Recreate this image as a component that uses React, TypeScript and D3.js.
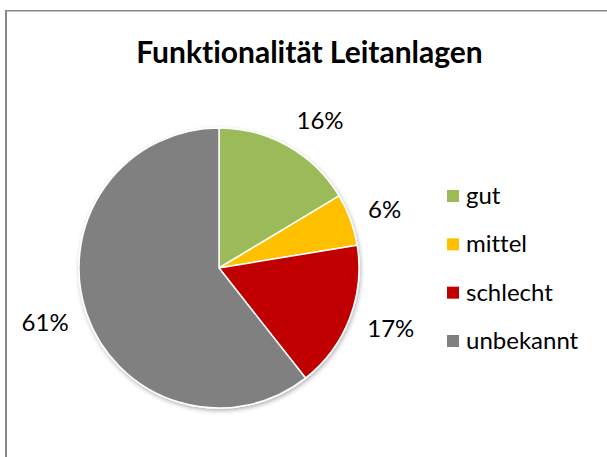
import React from 'react';
import * as d3 from 'd3';

const categories = ['gut', 'mittel', 'schlecht', 'unbekannt'];
const values = [16.4, 6.0, 17.0, 60.6];
const colors = ['#9BBB59', '#FFC000', '#C00000', '#808080'];
const title = 'Funktionalität Leitanlagen';

export default function App() {
  const W = 607, H = 457;
  const cx = 219, cy = 268, r = 140;
  const font = 'Lato, Carlito, Calibri, sans-serif';
  const pieData = d3.pie<number>().sort(null).value((d) => d)(values);
  const arc = d3.arc<d3.PieArcDatum<number>>().innerRadius(0).outerRadius(r);
  const total = d3.sum(values);
  const fmt = (v: number) => `${Math.round((v / total) * 100)}%`;
  const labelFs = 24;
  const legendY = d3.scaleLinear().domain([0, 3]).range([196, 341]);
  const noLig = { fontVariantLigatures: 'none' as const, fontFeatureSettings: '"liga" 0, "clig" 0' };

  return (
    <svg width={W} height={H} style={{ position: 'absolute', left: 0, top: 0, background: '#fff' }}>
      <defs>
        <filter id="sh" x="-20%" y="-20%" width="140%" height="140%">
          <feDropShadow dx="1" dy="2" stdDeviation="2" floodColor="#000" floodOpacity="0.3" />
        </filter>
      </defs>
      <rect x={0} y={0} width={W} height={H} fill="#fff" />
      <line x1={6} y1={10.75} x2={W} y2={10.75} stroke="#878787" strokeWidth={1.5} />
      <line x1={6} y1={10} x2={6} y2={H} stroke="#878787" strokeWidth={2} />
      <text x={309.5} y={63} textAnchor="middle" fontFamily={font} fontWeight="bold" fontSize={30} fill="#000" style={noLig}>
        {title}
      </text>
      <g transform={`translate(${cx},${cy})`}>
        <g filter="url(#sh)">
          {pieData.map((d, i) => (
            <path key={i} d={arc(d) || ''} fill={colors[i]} stroke="#fff" strokeWidth={1.5} strokeLinejoin="round" />
          ))}
        </g>
        {pieData.map((d, i) => {
          const th = (d.startAngle + d.endAngle) / 2;
          const s = Math.sin(th), c = -Math.cos(th);
          const rr = r + 21;
          const label = fmt(d.value);
          const w = label.length * 14.5;
          const h = 16;
          const lx = rr * s + (w / 2) * Math.sign(s);
          const ly = rr * c + (h / 2) * c;
          return (
            <text key={i} x={lx} y={ly + h / 2} textAnchor="middle" fontFamily={font} fontSize={labelFs} fill="#000">
              {label}
            </text>
          );
        })}
      </g>
      <g>
        {categories.map((cat, i) => (
          <g key={cat}>
            <rect x={447} y={legendY(i) - 6} width={12} height={12} fill={colors[i]} />
            <text x={466} y={legendY(i) + 8} fontFamily={font} fontSize={labelFs} fill="#000" style={noLig}>
              {cat}
            </text>
          </g>
        ))}
      </g>
    </svg>
  );
}
